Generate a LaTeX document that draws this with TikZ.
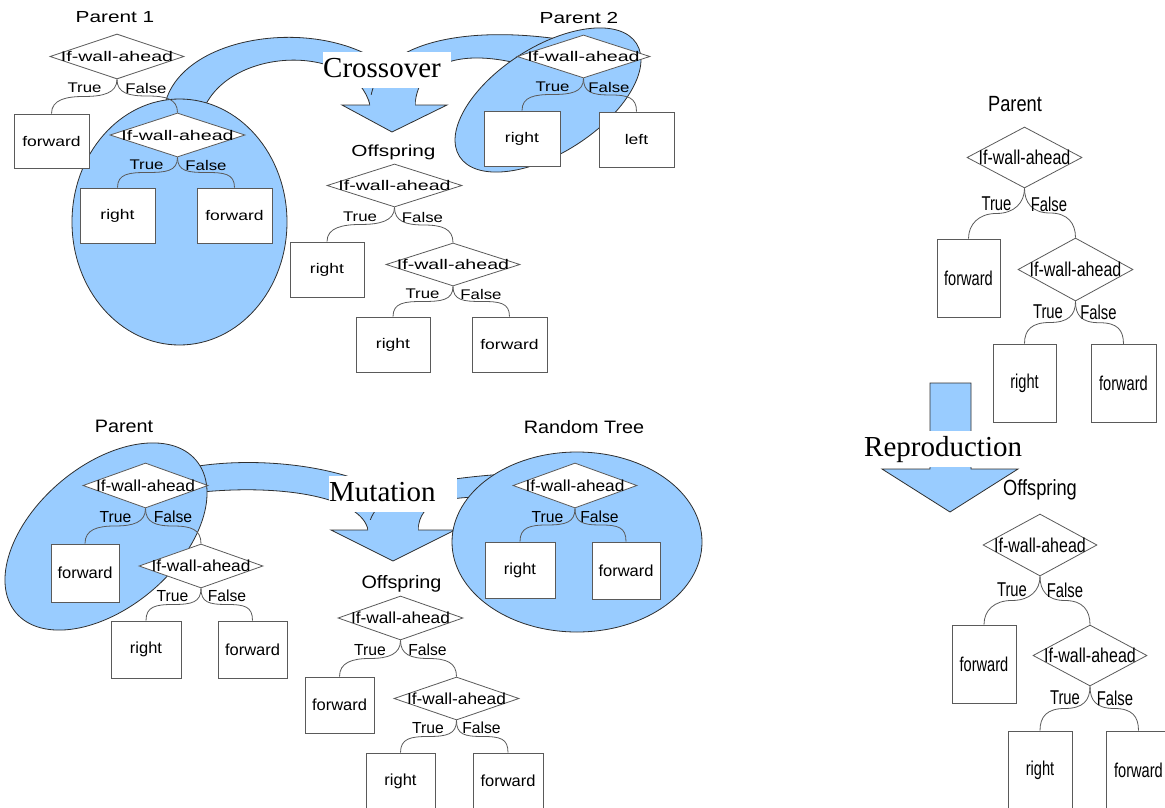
\documentclass[tikz,border=0pt]{standalone}
\usepackage{fontspec}
\usepackage{graphicx}
\setmainfont{Liberation Sans}
\newfontfamily\seriffam{Liberation Serif}
\usetikzlibrary{shapes.geometric,calc}
\definecolor{blobc}{HTML}{99CCFF}
\definecolor{edgec}{HTML}{2F2F2F}
\definecolor{linec}{HTML}{5A5A5A}
\def\fd{14}\def\xd{1}\def\fb{14}\def\xb{1}\def\fl{14}\def\xl{1}\def\fh{16}\def\xh{1}
\newcommand\dtx[1]{\makebox[0pt]{\fontsize{\fd}{\fd}\selectfont\scalebox{\xd}[1]{#1}}}
\newcommand\btx[1]{\makebox[0pt]{\fontsize{\fb}{\fb}\selectfont\scalebox{\xb}[1]{#1}}}
\newcommand\ltx[1]{{\fontsize{\fl}{\fl}\selectfont\scalebox{\xl}[1]{#1}}}
\newcommand\htx[1]{{\fontsize{\fh}{\fh}\selectfont\scalebox{\xh}[1]{#1}}}
\newcommand\brL[2]{\draw[conn] (#1.south) .. controls +(0,14) and +(18,0) .. ($(#1.south)!.5!(#2.north)$) .. controls +(-18,0) and +(0,-14) .. (#2.north);}
\newcommand\brR[2]{\draw[conn] (#1.south) .. controls +(0,14) and +(-18,0) .. ($(#1.south)!.5!(#2.north)$) .. controls +(18,0) and +(0,-14) .. (#2.north);}
\tikzset{
  dia/.style 2 args={shape=diamond, draw=linec, fill=white, line width=0.8pt, inner sep=0pt, minimum width=#1pt, minimum height=#2pt},
  boxn/.style 2 args={shape=rectangle, draw=linec, fill=white, line width=0.9pt, inner sep=0pt, minimum width=#1pt, minimum height=#2pt},
  conn/.style={draw=linec, line width=0.8pt},
  lab/.style={inner sep=0pt, text=black},
  blob/.style={fill=blobc, draw=edgec, line width=0.8pt},
  bandfill/.style={fill=blobc},
  bandedge/.style={draw=edgec, line width=0.8pt},
  word/.style={fill=white, inner sep=0pt, font=\seriffam\fontsize{29}{30}\selectfont, align=left, text height=21pt, text depth=6pt, minimum height=36pt, anchor=north west}
}
\begin{document}
\begin{tikzpicture}[x=1pt,y=-1pt]
\useasboundingbox (0,0) rectangle (1165,808);

% ================= CROSSOVER arrow =================
\fill[bandfill] (165,104) .. controls (185,20) and (380,10) .. (415,105) -- (370,105) .. controls (355,45) and (235,45) .. (205,106) -- cycle;
\draw[bandedge] (165,104) .. controls (185,20) and (380,10) .. (415,105);
\draw[bandedge] (370,105) .. controls (355,45) and (235,45) .. (205,106);
\fill[bandfill] (370,105) .. controls (372,40) and (470,25) .. (565,40) -- (540,70) .. controls (470,46) and (418,58) .. (415,105) -- cycle;
\draw[bandedge] (370,105) .. controls (372,40) and (470,25) .. (565,40);
\draw[bandedge] (540,70) .. controls (470,46) and (418,58) .. (415,105);
\fill[bandfill] (370,105) -- (342,105) -- (392,132) -- (447,105) -- (415,105) -- (415,95) -- (370,95) -- cycle;
\draw[bandedge] (370,105) -- (342,105) -- (392,132) -- (447,105) -- (415,105);
\filldraw[blob] (179.5,222) ellipse [x radius=107.5, y radius=123];
\filldraw[blob, rotate around={32.6:(548,100)}] (548,100) ellipse [x radius=105, y radius=53];
\node[word, text width=128pt] (wcross) at (323,52) {Crossover};

% ================= MUTATION arrow =================
\fill[bandfill] (192,467) .. controls (280,452) and (405,475) .. (418,530) -- (368,530) .. controls (362,498) and (285,484) .. (202,492) -- cycle;
\draw[bandedge] (192,467) .. controls (280,452) and (405,475) .. (418,530);
\draw[bandedge] (368,530) .. controls (362,498) and (285,484) .. (202,492);
\fill[bandfill] (368,530) .. controls (372,492) and (420,480) .. (505,474) -- (505,497) .. controls (445,496) and (420,500) .. (418,530) -- cycle;
\draw[bandedge] (368,530) .. controls (372,492) and (420,480) .. (505,474);
\draw[bandedge] (505,497) .. controls (445,496) and (420,500) .. (418,530);
\fill[bandfill] (368,530) -- (331,530) -- (393,561) -- (455,530) -- (418,530) -- (418,520) -- (368,520) -- cycle;
\draw[bandedge] (368,530) -- (331,530) -- (393,561) -- (455,530) -- (418,530);
\filldraw[blob, rotate around={40.3:(106,536.5)}] (106,536.5) ellipse [x radius=118, y radius=71];
\filldraw[blob] (577,542) ellipse [x radius=125, y radius=90];
\node[word, text width=128pt] (wmut) at (329,476) {Mutation};

% ================= REPRODUCTION arrow =================
\filldraw[blob] (930,469) -- (930,383) -- (971,383) -- (971,469) -- (1018,469) -- (950,512) -- (882,469) -- cycle;
\node[word, text width=159pt, inner xsep=2pt] (wrep) at (862,431) {Reproduction};

% ================= CROSSOVER trees =================
\begin{scope}
\def\fd{14}\def\xd{1.4}\def\fb{14}\def\xb{1.25}\def\fl{14}\def\xl{1.2}\def\fh{16}\def\xh{1.3}
% Parent 1
\node[lab] (hp1) at (115,17) {\htx{Parent 1}};
\node[dia={134}{45}] (a1) at (117,56.5) {\dtx{If-wall-ahead}};
\node[boxn={75}{54}] (a2) at (51.5,141) {\btx{forward}};
\node[dia={135}{44}] (a3) at (177.5,135) {\dtx{If-wall-ahead}};
\node[boxn={75}{55}] (a4) at (117.5,215.5) {\btx{right}};
\node[boxn={75}{55}] (a5) at (234.5,215.5) {\btx{forward}};
\brL{a1}{a2}\brR{a1}{a3}\brL{a3}{a4}\brR{a3}{a5}
\node[lab] (a1t) at (84.5,88) {\ltx{True}};
\node[lab] (a1f) at (146,88) {\ltx{False}};
\node[lab] (a3t) at (146.5,165) {\ltx{True}};
\node[lab] (a3f) at (206,165) {\ltx{False}};
% Offspring
\node[lab] (hco) at (393.5,152) {\htx{Offspring}};
\node[dia={135}{43}] (c1) at (394.5,185.5) {\dtx{If-wall-ahead}};
\node[boxn={74}{55}] (c2) at (327,269.5) {\btx{right}};
\node[dia={134}{43}] (c3) at (453,264.5) {\dtx{If-wall-ahead}};
\node[boxn={74}{55}] (c4) at (393,344.5) {\btx{right}};
\node[boxn={75}{55}] (c5) at (509.5,344.5) {\btx{forward}};
\brL{c1}{c2}\brR{c1}{c3}\brL{c3}{c4}\brR{c3}{c5}
\node[lab] (c1t) at (360,217) {\ltx{True}};
\node[lab] (c1f) at (422.5,217) {\ltx{False}};
\node[lab] (c3t) at (422.5,294) {\ltx{True}};
\node[lab] (c3f) at (481,294) {\ltx{False}};
% Parent 2
\node[lab] (hp2) at (579,18) {\htx{Parent 2}};
\node[dia={133}{43}] (b1) at (583.5,56.5) {\dtx{If-wall-ahead}};
\node[boxn={76}{55}] (b2) at (522,138.5) {\btx{right}};
\node[boxn={75}{55}] (b3) at (636.5,139.5) {\btx{left}};
\brL{b1}{b2}\brR{b1}{b3}
\node[lab] (b1t) at (552.5,87) {\ltx{True}};
\node[lab] (b1f) at (609,87) {\ltx{False}};
\end{scope}

% ================= MUTATION trees =================
\begin{scope}
\def\fd{16}\def\xd{1.08}\def\fb{16}\def\xb{1.03}\def\fl{16}\def\xl{0.98}\def\fh{18}\def\xh{1.1}
% Parent
\node[lab] (hmp) at (124,426) {\htx{Parent}};
\node[dia={125}{45}] (m1) at (145.5,485.5) {\dtx{If-wall-ahead}};
\node[boxn={68}{58}] (m2) at (85,573) {\btx{forward}};
\node[dia={124}{44}] (m3) at (201,566) {\dtx{If-wall-ahead}};
\node[boxn={70}{57}] (m4) at (146,649.5) {\btx{right}};
\node[boxn={69}{57}] (m5) at (252.5,649.5) {\btx{forward}};
\brL{m1}{m2}\brR{m1}{m3}\brL{m3}{m4}\brR{m3}{m5}
\node[lab] (m1t) at (115.5,517) {\ltx{True}};
\node[lab] (m1f) at (173,517) {\ltx{False}};
\node[lab] (m3t) at (172.5,596) {\ltx{True}};
\node[lab] (m3f) at (227,596) {\ltx{False}};
% Random Tree
\node[lab] (hrt) at (584,427) {\htx{Random Tree}};
\node[dia={124}{45}] (r1) at (575,485.5) {\dtx{If-wall-ahead}};
\node[boxn={70}{56}] (r2) at (520,570) {\btx{right}};
\node[boxn={68}{57}] (r3) at (626,570.5) {\btx{forward}};
\brL{r1}{r2}\brR{r1}{r3}
\node[lab] (r1t) at (547.5,517) {\ltx{True}};
\node[lab] (r1f) at (599.5,517) {\ltx{False}};
% Offspring
\node[lab] (hmo) at (401.5,584) {\htx{Offspring}};
\node[dia={125}{44}] (n1) at (400.5,618) {\dtx{If-wall-ahead}};
\node[boxn={69}{56}] (n2) at (339.5,705) {\btx{forward}};
\node[dia={125}{43}] (n3) at (456.5,698.5) {\dtx{If-wall-ahead}};
\node[boxn={69}{56}] (n4) at (400.5,781) {\btx{right}};
\node[boxn={70}{56}] (n5) at (508,781) {\btx{forward}};
\brL{n1}{n2}\brR{n1}{n3}\brL{n3}{n4}\brR{n3}{n5}
\node[lab] (n1t) at (370,650) {\ltx{True}};
\node[lab] (n1f) at (427.5,650) {\ltx{False}};
\node[lab] (n3t) at (428,728) {\ltx{True}};
\node[lab] (n3f) at (481.5,728) {\ltx{False}};
\end{scope}

% ================= REPRODUCTION trees =================
\begin{scope}
\def\fd{20}\def\xd{0.8}\def\fb{20}\def\xb{0.73}\def\fl{20}\def\xl{0.74}\def\fh{22}\def\xh{0.83}
% Parent
\node[lab] (hrp) at (1015,104) {\htx{Parent}};
\node[dia={115}{61}] (p1) at (1024.5,157.5) {\dtx{If-wall-ahead}};
\node[boxn={63}{78}] (p2) at (968.5,278) {\btx{forward}};
\node[dia={115}{63}] (p3) at (1075.5,269.5) {\dtx{If-wall-ahead}};
\node[boxn={63}{78}] (p4) at (1024.5,383) {\btx{right}};
\node[boxn={65}{78}] (p5) at (1123.5,383.5) {\btx{forward}};
\brL{p1}{p2}\brR{p1}{p3}\brL{p3}{p4}\brR{p3}{p5}
\node[lab] (p1t) at (996.5,204) {\ltx{True}};
\node[lab] (p1f) at (1049,204) {\ltx{False}};
\node[lab] (p3t) at (1048,312) {\ltx{True}};
\node[lab] (p3f) at (1098.5,312) {\ltx{False}};
% Offspring
\node[lab] (hro) at (1040,490) {\htx{Offspring}};
\node[dia={114}{62}] (q1) at (1040,545) {\dtx{If-wall-ahead}};
\node[boxn={64}{78}] (q2) at (984,664) {\btx{forward}};
\node[dia={114}{61}] (q3) at (1090,655.5) {\dtx{If-wall-ahead}};
\node[boxn={64}{78}] (q4) at (1040,770) {\btx{right}};
\node[boxn={65}{78}] (q5) at (1138.5,770) {\btx{forward}};
\brL{q1}{q2}\brR{q1}{q3}\brL{q3}{q4}\brR{q3}{q5}
\node[lab] (q1t) at (1012,590) {\ltx{True}};
\node[lab] (q1f) at (1065,590) {\ltx{False}};
\node[lab] (q3t) at (1065,698) {\ltx{True}};
\node[lab] (q3f) at (1115,698) {\ltx{False}};
\end{scope}
\end{tikzpicture}
\end{document}
